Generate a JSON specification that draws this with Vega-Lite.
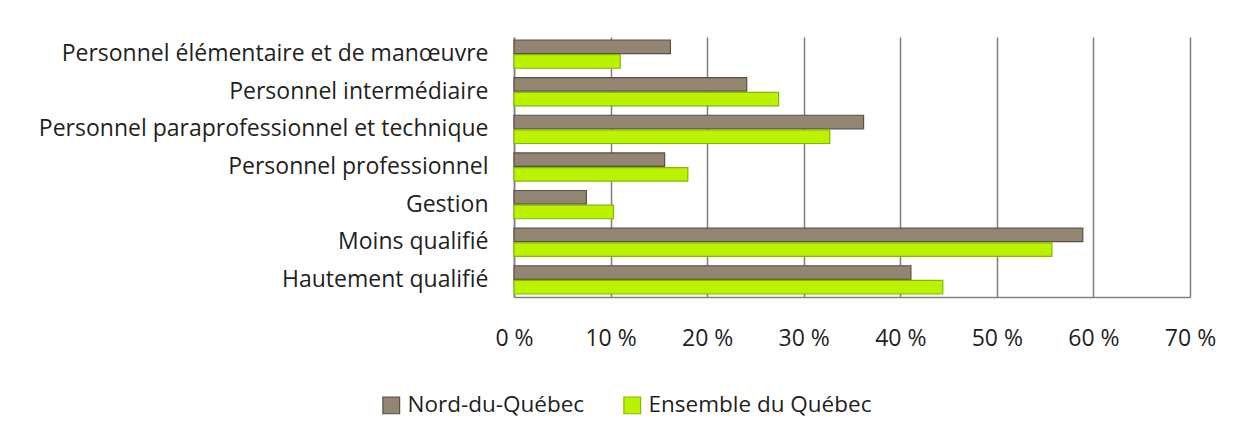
{
  "$schema": "https://vega.github.io/schema/vega-lite/v6.json",
  "autosize": {"type": "none"},
  "width": 676,
  "height": 260,
  "padding": {"left": 514, "top": 37, "right": 56, "bottom": 143},
  "background": "white",
  "config": {
    "view": {"stroke": null},
    "font": "Open Sans"
  },
  "data": {
    "values": [
      {"cat": "Personnel élémentaire et de manœuvre", "series": "Nord-du-Québec", "v": 16.2},
      {"cat": "Personnel élémentaire et de manœuvre", "series": "Ensemble du Québec", "v": 11.0},
      {"cat": "Personnel intermédiaire", "series": "Nord-du-Québec", "v": 24.1},
      {"cat": "Personnel intermédiaire", "series": "Ensemble du Québec", "v": 27.4},
      {"cat": "Personnel paraprofessionnel et technique", "series": "Nord-du-Québec", "v": 36.2},
      {"cat": "Personnel paraprofessionnel et technique", "series": "Ensemble du Québec", "v": 32.7},
      {"cat": "Personnel professionnel", "series": "Nord-du-Québec", "v": 15.6},
      {"cat": "Personnel professionnel", "series": "Ensemble du Québec", "v": 18.0},
      {"cat": "Gestion", "series": "Nord-du-Québec", "v": 7.5},
      {"cat": "Gestion", "series": "Ensemble du Québec", "v": 10.3},
      {"cat": "Moins qualifié", "series": "Nord-du-Québec", "v": 58.9},
      {"cat": "Moins qualifié", "series": "Ensemble du Québec", "v": 55.7},
      {"cat": "Hautement qualifié", "series": "Nord-du-Québec", "v": 41.1},
      {"cat": "Hautement qualifié", "series": "Ensemble du Québec", "v": 44.4}
    ]
  },
  "mark": {"type": "bar", "strokeWidth": 1.2},
  "encoding": {
    "y": {
      "field": "cat",
      "type": "nominal",
      "sort": null,
      "scale": {"paddingInner": 0.25, "paddingOuter": 0.08},
      "axis": {
        "title": null,
        "ticks": false,
        "domain": true,
        "domainColor": "#7f7f7f",
        "domainWidth": 1.5,
        "labelFontSize": 23,
        "labelColor": "#1f1f1f",
        "labelPadding": 26,
        "labelLimit": 600
      }
    },
    "yOffset": {
      "field": "series",
      "type": "nominal",
      "sort": ["Nord-du-Québec", "Ensemble du Québec"],
      "scale": {"paddingInner": 0.08}
    },
    "x": {
      "field": "v",
      "type": "quantitative",
      "scale": {"domain": [0, 70], "nice": false},
      "axis": {
        "title": null,
        "values": [0, 10, 20, 30, 40, 50, 60, 70],
        "labelExpr": "datum.label + ' %'",
        "ticks": false,
        "grid": true,
        "gridColor": "#7f7f7f",
        "gridWidth": 1.5,
        "domainColor": "#7f7f7f",
        "domainWidth": 1.5,
        "labelFontSize": 23,
        "labelColor": "#1f1f1f",
        "labelPadding": 30,
        "labelFlush": false
      }
    },
    "color": {
      "field": "series",
      "type": "nominal",
      "sort": ["Nord-du-Québec", "Ensemble du Québec"],
      "scale": {"domain": ["Nord-du-Québec", "Ensemble du Québec"], "range": ["#928572", "#baf200"]},
      "legend": {
        "title": null,
        "orient": "none",
        "direction": "horizontal",
        "legendX": -134,
        "legendY": 357,
        "symbolType": "square",
        "symbolSize": 280,
        "symbolStrokeWidth": 1.2,
        "labelFontSize": 22.5,
        "labelColor": "#1f1f1f",
        "labelOffset": 5,
        "labelLimit": 400,
        "columnPadding": 36
      }
    },
    "stroke": {
      "field": "series",
      "type": "nominal",
      "scale": {"domain": ["Nord-du-Québec", "Ensemble du Québec"], "range": ["#5a5045", "#86b800"]},
      "legend": null
    }
  }
}
